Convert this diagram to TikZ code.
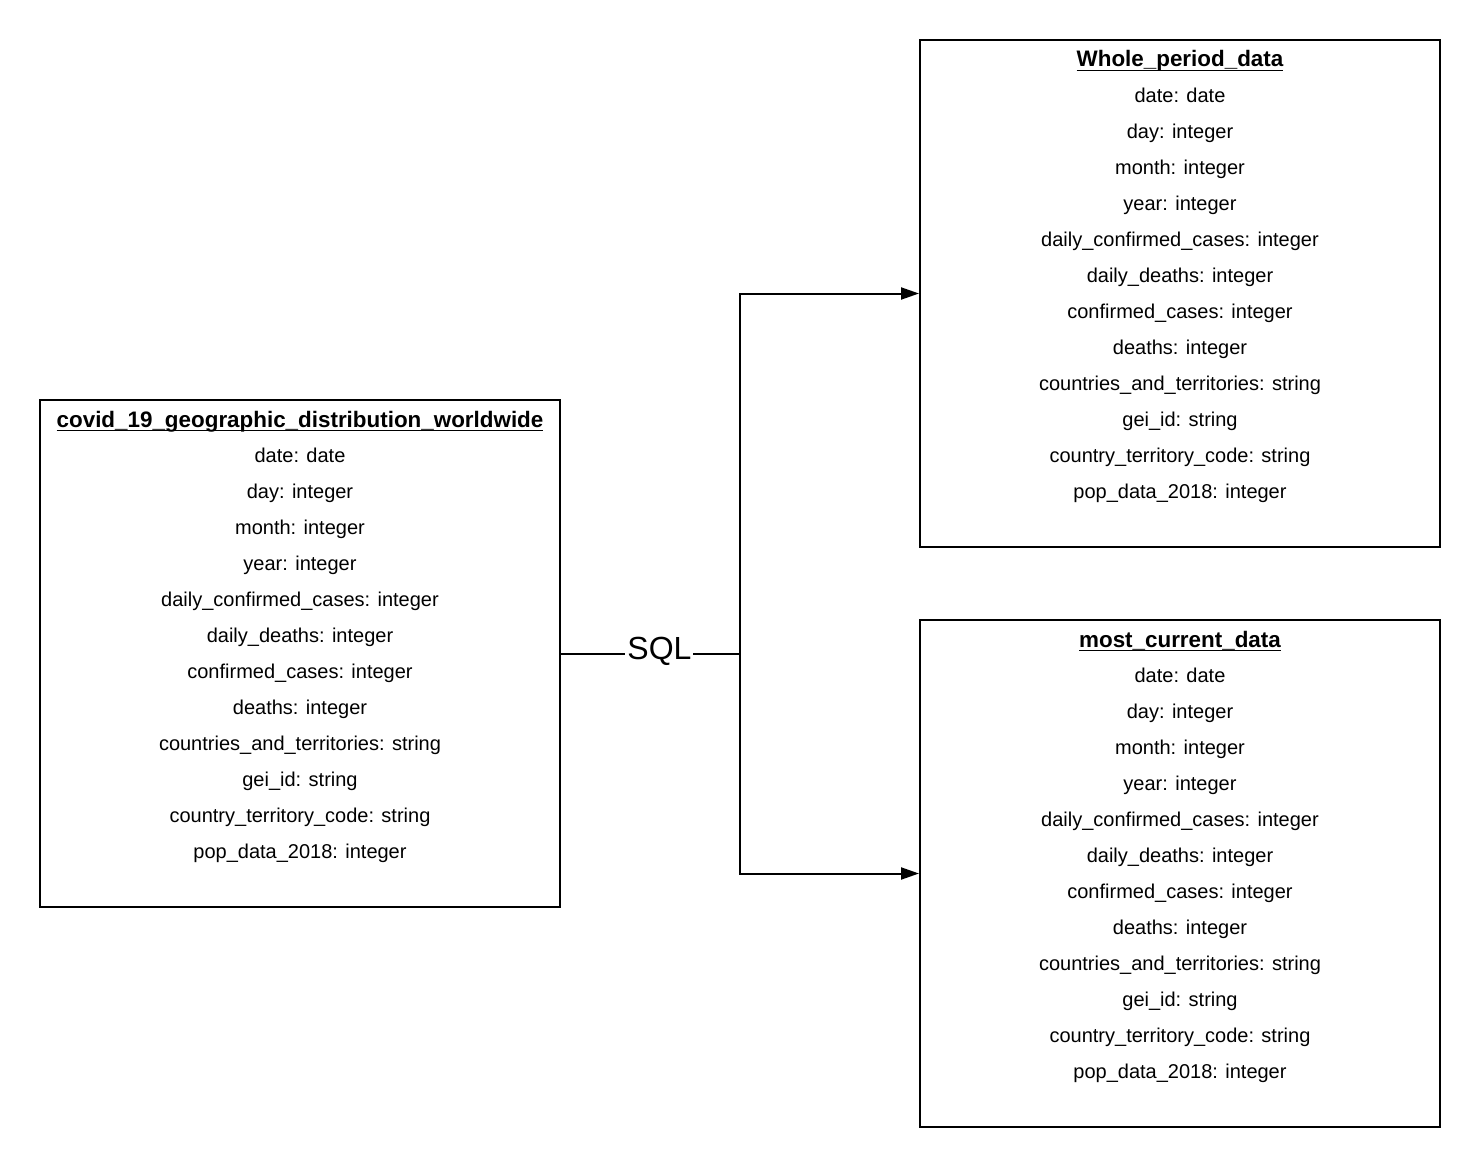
\documentclass[tikz,border=0pt]{standalone}
\usepackage{fontspec}
\setmainfont{Liberation Sans}
\usetikzlibrary{arrows.meta}
\newcommand{\fieldlist}{date: date, day: integer, month: integer, year: integer, daily\_confirmed\_cases: integer, daily\_deaths: integer, confirmed\_cases: integer, deaths: integer, countries\_and\_territories: string, gei\_id: string, country\_territory\_code: string, pop\_data\_2018: integer}
\newcommand{\titleline}[1]{\setbox0\hbox{#1}\rlap{\rule[-2.2pt]{\wd0}{0.8pt}}\box0}
\begin{document}
\begin{tikzpicture}[x=0.5pt,y=-0.5pt,>={Triangle[length=9pt,width=6pt]},
	tablebox/.style={draw,line width=1pt,minimum width=260pt,minimum height=253.5pt,inner sep=0pt},
	tabletitle/.style={anchor=base,font=\fontsize{11.2}{13}\selectfont\bfseries},
	fieldtext/.style={anchor=base,font=\fontsize{10}{12}\selectfont},
	link/.style={line width=1pt}]
		\useasboundingbox (0,0) rectangle (1480,1167);
		% tables
		\node[tablebox] (src) at (300,653.5) {};
		\node[tablebox] (whole) at (1180,293.5) {};
		\node[tablebox] (current) at (1180,873.5) {};
		\foreach \name/\x/\y/\ttl in {src/300/427/covid\_19\_geographic\_distribution\_worldwide, whole/1180/67/Whole\_period\_data, current/1180/647/most\_current\_data}{
			\node[tabletitle] (\name-title) at (\x,\y) {\titleline{\ttl}};
			\foreach \f [count=\i] in \fieldlist
				\node[fieldtext] (\name-\i) at (\x,\y-1+36*\i) {\f};
		}
		% links
		\coordinate (split) at (740,653.5);
		\draw[link] (src.east) -- node[pos=0.55,fill=white,inner sep=1pt,yshift=1pt,font=\fontsize{16}{18}\selectfont] (sql) {SQL} (split);
		\draw[link,->] (split) |- (whole.west);
		\draw[link,->] (split) |- (current.west);
		\end{tikzpicture}
\end{document}
